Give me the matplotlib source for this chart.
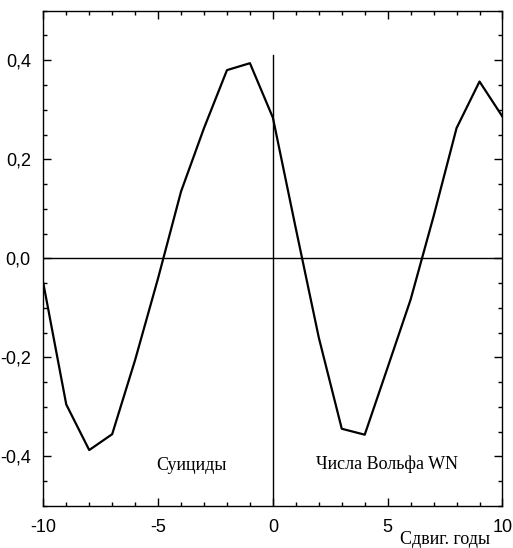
import matplotlib
matplotlib.use("Agg")
import matplotlib.pyplot as plt
from matplotlib.ticker import MultipleLocator, FuncFormatter

# cross-correlation: suicides vs Wolf numbers, lag in years
lags = list(range(-10, 11))
corr = [-0.05, -0.295, -0.387, -0.355, -0.205, -0.04, 0.135, 0.263, 0.380, 0.394,
        0.284, 0.06, -0.16, -0.344, -0.356, -0.22, -0.083, 0.085, 0.263, 0.357, 0.286]

x_ticks = [-10, -5, 0, 5, 10]
y_ticks = [-0.4, -0.2, 0.0, 0.2, 0.4]

fig = plt.figure(figsize=(5.13, 5.48), dpi=100)
ax = fig.add_axes([0.0844, 0.0766, 0.8951, 0.9039])

ax.plot(lags, corr, color="black", lw=1.6)
ax.axhline(0, color="black", lw=1.0)
ax.axvline(0, ymax=0.91, color="black", lw=1.0)

ax.set_xlim(-10, 10)
ax.set_ylim(-0.5, 0.5)
ax.set_xticks(x_ticks)
ax.set_yticks(y_ticks)
ax.xaxis.set_minor_locator(MultipleLocator(1))
ax.yaxis.set_minor_locator(MultipleLocator(0.05))
ax.yaxis.set_major_formatter(FuncFormatter(lambda v, p: f"{v:.1f}".replace(".", ",")))
ax.xaxis.set_major_formatter(FuncFormatter(lambda v, p: f"{v:.0f}"))

ax.tick_params(which="both", direction="in", top=True, right=True, width=1)
ax.tick_params(which="major", length=6, pad=9, labelsize=13)
ax.tick_params(which="minor", length=3)
for lab in ax.get_xticklabels() + ax.get_yticklabels():
    lab.set_family("Liberation Sans")
for s in ax.spines.values():
    s.set_linewidth(1.0)

ax.text(-3.55, -0.418, "Суициды", family="Liberation Serif", fontsize=13,
        ha="center", va="center")
ax.text(4.97, -0.415, "Числа Вольфа WN", family="Liberation Serif", fontsize=13,
        ha="center", va="center")
fig.text(0.956, 0.0, "Сдвиг. годы", family="Liberation Serif", fontsize=13,
         ha="right", va="bottom")

fig.savefig("out.png", dpi=100)
